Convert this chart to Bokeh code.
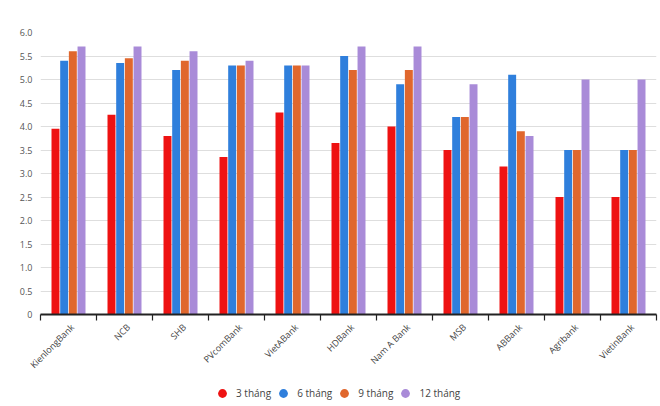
from bokeh.plotting import figure
from bokeh.layouts import column
from bokeh.models import Range1d, FixedTicker, Legend, LegendItem, NumeralTickFormatter
from bokeh.embed import file_html
from bokeh.resources import INLINE
from math import pi

banks = ["KienlongBank", "NCB", "SHB", "PVcomBank", "VietABank", "HDBank",
         "Nam A Bank", "MSB", "ABBank", "Agribank", "VietinBank"]
m3 = [3.95, 4.25, 3.8, 3.35, 4.3, 3.65, 4.0, 3.5, 3.15, 2.5, 2.5]
m6 = [5.4, 5.35, 5.2, 5.3, 5.3, 5.5, 4.9, 4.2, 5.1, 3.5, 3.5]
m9 = [5.6, 5.45, 5.4, 5.3, 5.3, 5.2, 5.2, 4.2, 3.9, 3.5, 3.5]
m12 = [5.7, 5.7, 5.6, 5.4, 5.3, 5.7, 5.7, 4.9, 3.8, 5.0, 5.0]
series = [m3, m6, m9, m12]
series_names = ["3 tháng", "6 tháng", "9 tháng", "12 tháng"]
colors = ["#ee1212", "#2f7fdc", "#e0672d", "#a98bd8"]
y_ticks = [0, 0.5, 1.0, 1.5, 2.0, 2.5, 3.0, 3.5, 4.0, 4.5, 5.0, 5.5, 6.0]

FONT = "Open Sans"
n = len(banks)
W = 660

p = figure(width=W, height=384, output_backend="svg", toolbar_location=None,
           x_range=Range1d(0, n), y_range=Range1d(0, 6.0),
           min_border_left=40, min_border_right=4, min_border_top=32,
           min_border_bottom=70)
p.outline_line_color = None
p.background_fill_color = "white"

step = 0.155
bw = 0.142
centers = [i + 0.5 for i in range(n)]
for k, (vals, col) in enumerate(zip(series, colors)):
    off = (k - 1.5) * step
    p.vbar(x=[c + off for c in centers], top=vals, width=bw, bottom=0,
           fill_color=col, line_color=None)

# x axis: labels near category centres, ticks at category boundaries
label_pos = [c + 0.07 for c in centers]
xa = p.xaxis[0]
xa.ticker = FixedTicker(ticks=label_pos, minor_ticks=list(range(n + 1)))
xa.major_label_overrides = {lp: b for lp, b in zip(label_pos, banks)}
xa.major_label_orientation = pi / 4
xa.major_tick_line_color = None
xa.minor_tick_line_color = "#222222"
xa.minor_tick_line_width = 1.2
xa.minor_tick_out = 6
xa.minor_tick_in = 0
xa.axis_line_color = "#222222"
xa.axis_line_width = 2
xa.major_label_text_font = FONT
xa.major_label_text_font_size = "9px"
xa.major_label_text_color = "#444444"
xa.major_label_standoff = 5

# y axis
ya = p.yaxis[0]
ya.ticker = FixedTicker(ticks=y_ticks, minor_ticks=[])
ya.formatter = NumeralTickFormatter(format="0.0")
ya.major_label_overrides = {0: "0"}
ya.axis_line_color = None
ya.major_tick_line_color = None
ya.minor_tick_line_color = None
ya.major_label_text_font = FONT
ya.major_label_text_font_size = "9px"
ya.major_label_text_color = "#555555"
ya.major_label_standoff = 2

p.xgrid.grid_line_color = None
p.ygrid.grid_line_color = "#dedede"
p.ygrid.grid_line_width = 1

# legend strip below the chart
lg = figure(width=W, height=22, output_backend="svg", toolbar_location=None,
            x_axis_type=None, y_axis_type=None, x_range=Range1d(0, 1), y_range=Range1d(0, 1),
            min_border_left=0, min_border_right=0, min_border_top=0, min_border_bottom=0)
lg.outline_line_color = None
lg.xgrid.grid_line_color = None
lg.ygrid.grid_line_color = None
nan = float("nan")
items = []
for name, col in zip(series_names, colors):
    r = lg.scatter(x=[nan], y=[nan], marker="circle", size=9, fill_color=col, line_color=None)
    items.append(LegendItem(label=name, renderers=[r]))
legend = Legend(items=items, orientation="horizontal", location=(171, 2),
                label_text_font=FONT, label_text_font_size="10px", label_text_color="#444444",
                glyph_width=22, glyph_height=22, spacing=1, label_standoff=3,
                padding=0, margin=0, border_line_color=None, background_fill_alpha=0)
lg.add_layout(legend, "center")

layout = column(p, lg, spacing=0)
open("out.html", "w").write(file_html(layout, INLINE))
